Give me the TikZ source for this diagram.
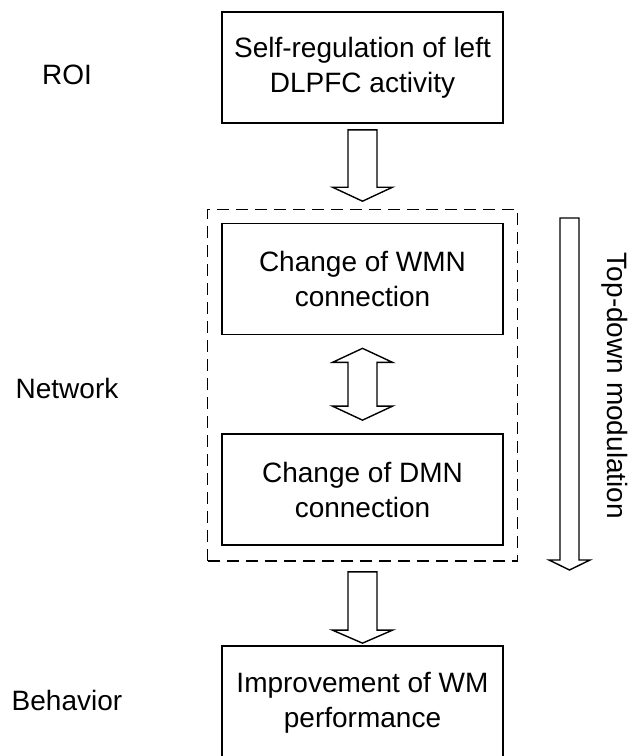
\documentclass[tikz,border=0pt]{standalone}
\usepackage{fontspec}
\setmainfont{Liberation Sans}
\usetikzlibrary{calc}

% hollow block arrow pointing down: shaft half width, head half width, head length, from, to
\newcommand{\blockarrow}[5]{%
  \draw[arrowline] let \p1=(#4), \p2=(#5) in
    (\x1-#1,\y1) -- (\x1-#1,\y2+#3) -- (\x1-#2,\y2+#3) -- (\x2,\y2)
    -- (\x1+#2,\y2+#3) -- (\x1+#1,\y2+#3) -- (\x1+#1,\y1) -- cycle;}

\begin{document}
\begin{tikzpicture}[x=1pt,y=-1pt,
    box/.style={draw,line width=1.7pt,minimum width=281pt,minimum height=111pt,
      inner sep=0pt,align=center,font=\fontsize{28}{35}\selectfont},
    level/.style={font=\fontsize{28}{35}\selectfont},
    frame/.style={draw,line width=1.6pt,dash pattern=on 12pt off 7pt,
      minimum width=310pt,minimum height=351.5pt,inner sep=0pt},
    arrowline/.style={draw,line width=1.4pt,line join=miter}]
   \useasboundingbox (0,0) rectangle (634,756);

   % levels
   \node[level] (lroi) at (67,75) {ROI};
   \node[level] (lnet) at (67,388) {Network};
   \node[level] (lbeh) at (67,700) {Behavior};

   % boxes
   \node[box] (selfreg) at (362.5,67.5) {Self-regulation of left\\DLPFC activity};
   \node[frame] (netframe) at (362.5,385.25) {};
   \node[box] (wmn) at (362.5,279) {Change of WMN\\connection};
   \node[box] (dmn) at (362.5,489.5) {Change of DMN\\connection};
   \node[box,minimum height=114pt] (improve) at (362.5,703) {Improvement of WM\\performance};

   % arrow ends
   \coordinate (a1s) at ($(selfreg.south)+(0,6)$);
   \coordinate (a1e) at ($(netframe.north)+(0,-7.5)$);
   \coordinate (a3s) at ($(netframe.south)+(0,10)$);
   \coordinate (a3e) at ($(improve.north)+(0,-2)$);
   \coordinate (dtop) at ($(wmn.south)+(0,13)$);
   \coordinate (dbot) at ($(dmn.north)+(0,-13)$);
   \coordinate (ms) at (569.5,218);
   \coordinate (me) at (569.5,570);

   \blockarrow{14.5pt}{30pt}{14pt}{a1s}{a1e}
   \blockarrow{14.5pt}{30pt}{13pt}{a3s}{a3e}
   \blockarrow{9.5pt}{20.5pt}{10pt}{ms}{me}

   % two-way arrow between the networks
   \draw[arrowline] let \p1=(dtop), \p2=(dbot) in
     (\x1,\y1) -- (\x1+30pt,\y1-14pt) -- (\x1+14.5pt,\y1-14pt) -- (\x1+14.5pt,\y2+14pt)
     -- (\x1+30pt,\y2+14pt) -- (\x2,\y2) -- (\x1-30pt,\y2+14pt) -- (\x1-14.5pt,\y2+14pt)
     -- (\x1-14.5pt,\y1-14pt) -- (\x1-30pt,\y1-14pt) -- cycle;

   \node[level,rotate=-90] (lmod) at (615,386) {Top-down modulation};
\end{tikzpicture}
\end{document}
